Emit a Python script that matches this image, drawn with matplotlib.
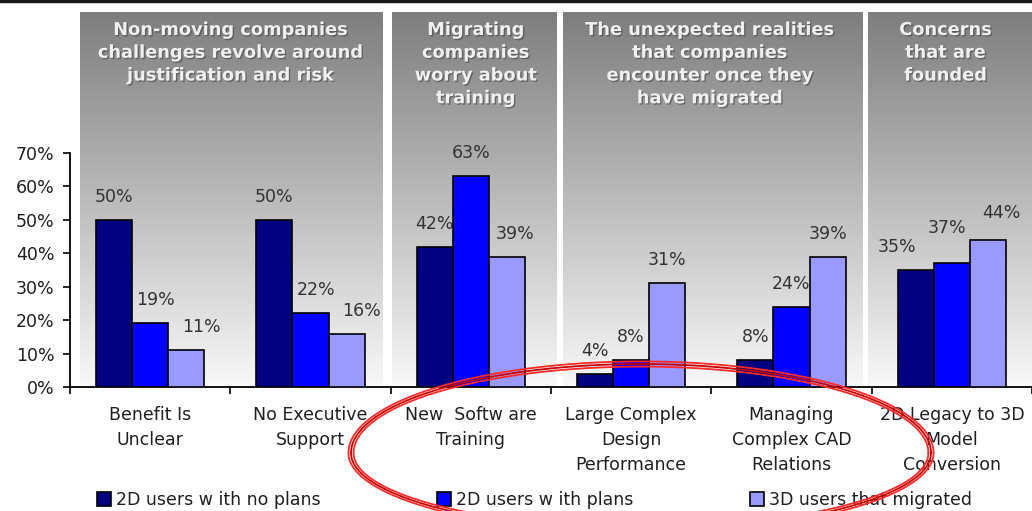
import numpy as np
import matplotlib
matplotlib.use("Agg")
import matplotlib.pyplot as plt
import matplotlib.patheffects as pe
from matplotlib.colors import LinearSegmentedColormap

# ---- data ---------------------------------------------------------------------------------
categories = ["Benefit Is\nUnclear", "No Executive\nSupport", "New  Softw are\nTraining",
              "Large Complex\nDesign\nPerformance", "Managing\nComplex CAD\nRelations",
              "2D Legacy to 3D\nModel\nConversion"]
series_names = ["2D users w ith no plans", "2D users w ith plans", "3D users that migrated"]
no_plans = [50, 50, 42, 4, 8, 35]
with_plans = [19, 22, 63, 8, 24, 37]
migrated = [11, 16, 39, 31, 39, 44]
headers = ["Non-moving companies\nchallenges revolve around\njustification and risk",
           "Migrating\ncompanies\nworry about\ntraining",
           "The unexpected realities\nthat companies\nencounter once they\nhave migrated",
           "Concerns\nthat are\nfounded"]

# ---- layout / style -----------------------------------------------------------------------
W, H = 1032, 511
colors = ["#000080", "#0000ff", "#9999ff"]
panel_x = [(0.06, 1.945), (2.01, 3.035), (3.075, 4.94), (4.98, 6.2)]
header_x = [1.0, 2.53, 3.99, 5.46]
# hand-nudged label offsets (px) as in the source chart
nudge = {(0, 1): (5, 0), (0, 2): (15, 0), (1, 1): (6, 0), (1, 2): (15, 0),
         (2, 2): (8, 0), (5, 0): (-19, 0), (5, 1): (-5, 12), (5, 2): (13, 4)}
FS = 12.5
TXT = "#1f1f1f"

fig = plt.figure(figsize=(W / 100, H / 100), dpi=100)
fig.patch.set_facecolor("white")

ax_left, ax_bot, ax_top = 70 / W, 1 - 387 / H, 1 - 153 / H
ax_w = 1 - ax_left

# background panels with gradient
bg = fig.add_axes([ax_left, 0, ax_w, 1], zorder=0)
bg.set_axis_off()
grad = np.linspace(0, 1, 256).reshape(-1, 1)
cmap = LinearSegmentedColormap.from_list("g", ["#7e7e7e", "#f8f8f8"])
for (x0, x1) in panel_x:
    bg.imshow(grad, cmap=cmap, aspect="auto", extent=(x0, x1, 387, 12), zorder=0)
for hx, txt in zip(header_x, headers):
    bg.text(hx, 21, txt, ha="center", va="top", fontsize=12.8, fontweight="bold",
            color="#f0f0f0", linespacing=1.34,
            path_effects=[pe.withSimplePatchShadow(offset=(1, -1), shadow_rgbFace="#3a3a3a",
                                                   alpha=0.5)])
bg.set_xlim(0, 6)
bg.set_ylim(H, 0)

# main bar axes
ax = fig.add_axes([ax_left, ax_bot, ax_w, ax_top - ax_bot], zorder=1)
ax.patch.set_alpha(0)
x = np.arange(len(categories)) + 0.5
bw = 0.225
for k, vals in enumerate([no_plans, with_plans, migrated]):
    bars = ax.bar(x + (k - 1) * bw, vals, width=bw, color=colors[k], edgecolor="black",
                  linewidth=1.2, zorder=3, label=series_names[k])
    for i, b in enumerate(bars):
        dx, dy = nudge.get((i, k), (0, 0))
        ax.annotate(f"{vals[i]}%", (b.get_x() + b.get_width() / 2, b.get_height()),
                    xytext=(dx * 0.72, (23 + dy) * 0.72), textcoords="offset points",
                    ha="center", va="center", fontsize=FS, color="#333333")

ax.set_xlim(0, 6)
ax.set_ylim(0, 70)
ax.set_yticks(range(0, 71, 10))
ax.set_yticklabels([f"{v}%" for v in range(0, 71, 10)], fontsize=FS, color=TXT)
ax.set_xticks(range(0, 7))
ax.set_xticklabels([])
ax.set_xticks(x, minor=True)
ax.set_xticklabels(categories, minor=True, fontsize=FS, color=TXT, linespacing=1.5)
ax.tick_params(axis="x", which="major", direction="out", length=5, width=1.2)
ax.tick_params(axis="x", which="minor", length=0, pad=14)
ax.tick_params(axis="y", direction="out", length=5, width=1.2, pad=6)
for s in ["top", "right"]:
    ax.spines[s].set_visible(False)
for s in ["left", "bottom"]:
    ax.spines[s].set_linewidth(1.3)

handles, labels = ax.get_legend_handles_labels()
fig.legend(handles, labels, loc="center left", bbox_to_anchor=(97 / W, 1 - 500 / H),
           ncol=3, frameon=False, fontsize=FS, handlelength=0.8, handleheight=0.8,
           handletextpad=0.3, columnspacing=6.7, borderpad=0, borderaxespad=0,
           labelcolor=TXT)

# overlay: top border + hand-drawn red ellipse
ov = fig.add_axes([0, 0, 1, 1], zorder=10)
ov.set_axis_off()
ov.set_xlim(0, W)
ov.set_ylim(H, 0)
ov.axhline(1.0, color="#1a1a1a", lw=2.5)
t = np.linspace(0, 2 * np.pi, 400)
cx, cy, a, b_top, b_bot = 641, 453, 290, 89, 77
for d, c in zip([-2.6, 0, 2.6], ["#ff2a2a", "#c80000", "#ff2a2a"]):
    ex = cx + (a + d) * np.cos(t)
    ey = np.where(np.sin(t) > 0, cy - (b_top + d) * np.sin(t), cy - (b_bot + d) * np.sin(t))
    ov.plot(ex, ey, color=c, lw=1.3, solid_capstyle="round")

fig.savefig("out.png", dpi=100)
